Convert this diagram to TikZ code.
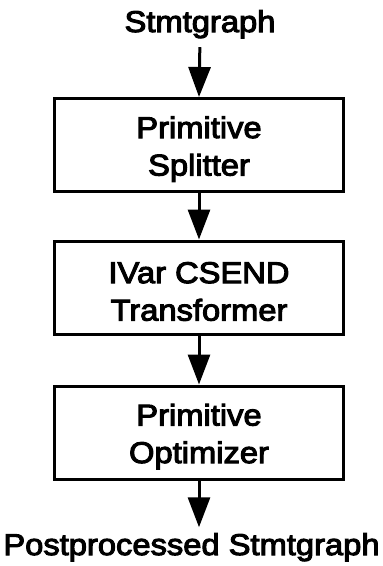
\documentclass[tikz,border=0pt]{standalone}
\usepackage{fontspec}
\setmainfont{Liberation Sans}[FakeStretch=1.09,FakeBold=3.5]
\usetikzlibrary{arrows.meta}
\begin{document}
\begin{tikzpicture}[x=1pt,y=1pt,
  txtfont/.style={font=\fontsize{30}{37.5}\selectfont},
  lbl/.style={txtfont, inner sep=0pt, outer sep=0pt},
  stage/.style={draw, line width=3pt, minimum width=289pt, minimum height=93pt, inner sep=0pt},
  inside/.style={txtfont, align=center, inner sep=0pt, yshift=-4pt},
  flow/.style={line width=3pt, -{Triangle[length=30pt,width=22pt]}}]
\useasboundingbox (0,0) rectangle (383,-566);
\node[lbl, anchor=base] (in) at (200,-32) {Stmtgraph};
\node[stage, label={[inside]center:{Primitive\\Splitter}}] (s1) at (199,-145) {};
\node[stage, label={[inside]center:{IVar CSEND\\Transformer}}] (s2) at (199,-287.5) {};
\node[stage, label={[inside]center:{Primitive\\Optimizer}}] (s3) at (199,-432.5) {};
\node[lbl, anchor=base] (out) at (191.5,-555) {Postprocessed Stmtgraph};
\draw[flow, shorten <=9pt] (in.south) -- (s1.north);
\draw[flow] (s1.south) -- (s2.north);
\draw[flow] (s2.south) -- (s3.north);
\draw[flow, shorten >=6pt] (s3.south) -- (out.north -| s3.south);
\end{tikzpicture}
\end{document}
